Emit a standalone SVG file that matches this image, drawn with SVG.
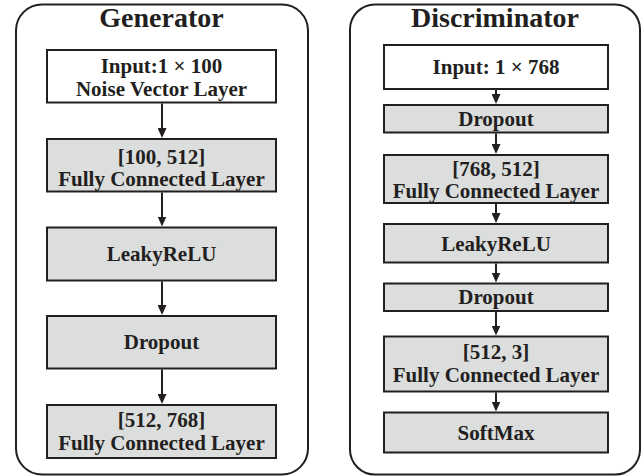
<svg xmlns="http://www.w3.org/2000/svg" width="644" height="476" viewBox="0 0 644 476">
<defs>
<style>
.panel{fill:#ffffff;stroke:#231f20;stroke-width:2}
.box{fill:#dcdddd;stroke:#231f20;stroke-width:2}
.wbox{fill:#ffffff;stroke:#231f20;stroke-width:2}
.t{font-family:"Liberation Serif","Times New Roman",serif;font-weight:bold;font-size:21px;fill:#231f20;text-anchor:middle}
.title{font-family:"Liberation Serif","Times New Roman",serif;font-weight:bold;font-size:28px;fill:#231f20;text-anchor:middle}
.c{stroke:#231f20;stroke-width:2;fill:none;marker-end:url(#ah)}
</style>
<marker id="ah" markerUnits="userSpaceOnUse" markerWidth="10" markerHeight="9" refX="2" refY="4.5" orient="auto">
<path d="M0,0 L10,4.5 L0,9 z" fill="#231f20"/>
</marker>
</defs>
<rect width="644" height="476" fill="#ffffff"/>
<g id="generator-panel">
<rect class="panel" x="16" y="4.5" width="292" height="470" rx="26" ry="26"/>
<text class="title" x="161.5" y="26.5">Generator</text>
</g>
<g id="discriminator-panel">
<rect class="panel" x="350" y="4.5" width="290" height="470" rx="25" ry="25"/>
<text class="title" x="495" y="26.5">Discriminator</text>
</g>
<g id="g-input">
<rect class="wbox" x="47" y="50" width="229" height="52.5"/>
<text class="t" x="161.5" y="73">Input:1 × 100</text>
<text class="t" x="161.5" y="96">Noise Vector Layer</text>
</g>
<g id="g-fc1">
<rect class="box" x="47" y="139" width="229" height="52.5"/>
<text class="t" x="161.5" y="163.5">[100, 512]</text>
<text class="t" x="161.5" y="186">Fully Connected Layer</text>
</g>
<g id="g-leaky">
<rect class="box" x="47" y="227.5" width="229" height="53"/>
<text class="t" x="161.5" y="261">LeakyReLU</text>
</g>
<g id="g-dropout">
<rect class="box" x="47" y="316" width="229" height="52.5"/>
<text class="t" x="161.5" y="349">Dropout</text>
</g>
<g id="g-fc2">
<rect class="box" x="47" y="405" width="229" height="53"/>
<text class="t" x="161.5" y="427">[512, 768]</text>
<text class="t" x="161.5" y="449.5">Fully Connected Layer</text>
</g>
<g id="d-input">
<rect class="wbox" x="384" y="45" width="224" height="44"/>
<text class="t" x="496" y="74">Input: 1 × 768</text>
</g>
<g id="d-dropout1">
<rect class="box" x="384" y="105" width="224" height="27.5"/>
<text class="t" x="496" y="125.5">Dropout</text>
</g>
<g id="d-fc1">
<rect class="box" x="384" y="155" width="224" height="48"/>
<text class="t" x="496" y="175.5">[768, 512]</text>
<text class="t" x="496" y="198">Fully Connected Layer</text>
</g>
<g id="d-leaky">
<rect class="box" x="384" y="224" width="224" height="38.5"/>
<text class="t" x="496" y="250.5">LeakyReLU</text>
</g>
<g id="d-dropout2">
<rect class="box" x="384" y="283.5" width="224" height="27.5"/>
<text class="t" x="496" y="304">Dropout</text>
</g>
<g id="d-fc2">
<rect class="box" x="384" y="336.5" width="224" height="55"/>
<text class="t" x="496" y="358.5">[512, 3]</text>
<text class="t" x="496" y="381.5">Fully Connected Layer</text>
</g>
<g id="d-softmax">
<rect class="box" x="384" y="412.5" width="224" height="40"/>
<text class="t" x="496" y="439.5">SoftMax</text>
</g>
<g id="connectors">
<path class="c" d="M162,103.5 V130"/>
<path class="c" d="M162,192.5 V218.5"/>
<path class="c" d="M162,281.5 V307"/>
<path class="c" d="M162,369.5 V396"/>
<path class="c" d="M496,90 V96"/>
<path class="c" d="M496,133.5 V146"/>
<path class="c" d="M496,204 V215"/>
<path class="c" d="M496,263.5 V274.5"/>
<path class="c" d="M496,312 V327.5"/>
<path class="c" d="M496,392.5 V403.5"/>
</g>
</svg>
